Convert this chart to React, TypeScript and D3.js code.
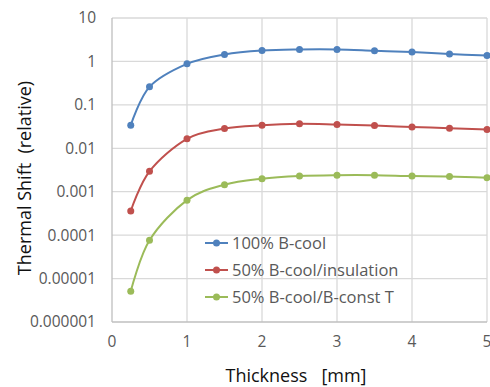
import React, { useRef, useEffect } from 'react';
import * as d3 from 'd3';

const thickness = [0.25, 0.5, 1, 1.5, 2, 2.5, 3, 3.5, 4, 4.5, 5];
const bCool100 = [0.034, 0.26, 0.88, 1.45, 1.79, 1.89, 1.89, 1.76, 1.64, 1.48, 1.37];
const bCoolInsulation = [0.00036, 0.00295, 0.0165, 0.0284, 0.0339, 0.0365, 0.0351, 0.0333, 0.031, 0.029, 0.027];
const bCoolConstT = [0.0000051, 0.000076, 0.00064, 0.00145, 0.002, 0.0023, 0.0024, 0.0024, 0.0023, 0.00225, 0.0021];
const seriesNames = ['100% B-cool', '50% B-cool/insulation', '50% B-cool/B-const T'];
const seriesColors = ['#4F81BD', '#C0504D', '#9BBB59'];
const xTicks = [0, 1, 2, 3, 4, 5];
const yTicks = [10, 1, 0.1, 0.01, 0.001, 0.0001, 0.00001, 0.000001];
const yTickLabels = ['10', '1', '0.1', '0.01', '0.001', '0.0001', '0.00001', '0.000001'];

export default function App() {
  const svgRef = useRef<SVGSVGElement>(null);
  const width = 490;
  const height = 387;

  useEffect(() => {
    const svg = d3.select(svgRef.current);
    svg.selectAll('*').remove();

    const margin = { top: 18, right: 3, bottom: 65, left: 112 };
    const innerWidth = width - margin.left - margin.right;
    const innerHeight = height - margin.top - margin.bottom;
    const font = '"Open Sans", sans-serif';

    const x = d3.scaleLinear().domain([0, 5]).range([0, innerWidth]);
    const y = d3.scaleLog().domain([0.000001, 10]).range([innerHeight, 0]);

    const g = svg.append('g').attr('transform', `translate(${margin.left},${margin.top})`);

    // gridlines
    g.selectAll('.hgrid')
      .data(yTicks.slice(0, -1))
      .enter()
      .append('line')
      .attr('x1', 0)
      .attr('x2', innerWidth)
      .attr('y1', d => y(d))
      .attr('y2', d => y(d))
      .attr('stroke', '#D9D9D9')
      .attr('stroke-width', 1.3);
    g.selectAll('.vgrid')
      .data(xTicks.slice(1))
      .enter()
      .append('line')
      .attr('x1', d => x(d))
      .attr('x2', d => x(d))
      .attr('y1', 0)
      .attr('y2', innerHeight)
      .attr('stroke', '#D9D9D9')
      .attr('stroke-width', 1.3);

    // axes lines
    g.append('line').attr('x1', 0).attr('x2', 0).attr('y1', 0).attr('y2', innerHeight)
      .attr('stroke', '#BFBFBF').attr('stroke-width', 1.3);
    g.append('line').attr('x1', 0).attr('x2', innerWidth).attr('y1', innerHeight).attr('y2', innerHeight)
      .attr('stroke', '#BFBFBF').attr('stroke-width', 1.3);

    // tick labels
    g.selectAll('.ylab')
      .data(yTicks)
      .enter()
      .append('text')
      .attr('x', -16)
      .attr('y', d => y(d))
      .attr('dy', '0.35em')
      .attr('text-anchor', 'end')
      .attr('font-family', font)
      .attr('font-size', 15.5)
      .attr('fill', '#595959')
      .text((d, i) => yTickLabels[i]);
    g.selectAll('.xlab')
      .data(xTicks)
      .enter()
      .append('text')
      .attr('x', d => x(d))
      .attr('y', innerHeight + 25)
      .attr('text-anchor', 'middle')
      .attr('font-family', font)
      .attr('font-size', 15.5)
      .attr('fill', '#595959')
      .text(d => String(d));

    // series
    const allSeries = [bCool100, bCoolInsulation, bCoolConstT];
    const line = d3.line<number>()
      .x((d, i) => x(thickness[i]))
      .y(d => y(d))
      .curve(d3.curveCatmullRom.alpha(0));

    allSeries.forEach((vals, si) => {
      g.append('path')
        .attr('d', line(vals))
        .attr('fill', 'none')
        .attr('stroke', seriesColors[si])
        .attr('stroke-width', 2);
      g.selectAll(`.pt${si}`)
        .data(vals)
        .enter()
        .append('circle')
        .attr('cx', (d, i) => x(thickness[i]))
        .attr('cy', d => y(d))
        .attr('r', 3.5)
        .attr('fill', seriesColors[si]);
    });

    // legend
    const legend = svg.append('g').attr('transform', 'translate(205,243)');
    seriesNames.forEach((name, i) => {
      const row = legend.append('g').attr('transform', `translate(0,${i * 27})`);
      row.append('line').attr('x1', 0).attr('x2', 23).attr('y1', 0).attr('y2', 0)
        .attr('stroke', seriesColors[i]).attr('stroke-width', 2);
      row.append('circle').attr('cx', 11.5).attr('cy', 0).attr('r', 3.5).attr('fill', seriesColors[i]);
      row.append('text')
        .attr('x', 27)
        .attr('y', 0)
        .attr('dy', '0.35em')
        .attr('font-family', font)
        .attr('font-size', 16.5)
        .attr('fill', '#595959')
        .text(name);
    });

    // axis titles
    svg.append('text')
      .attr('x', 296)
      .attr('y', 382)
      .attr('text-anchor', 'middle')
      .attr('font-family', font)
      .attr('font-size', 18)
      .attr('fill', '#111')
      .style('white-space', 'pre')
      .text('Thickness   [mm]');
    svg.append('text')
      .attr('transform', `translate(31,${margin.top + innerHeight / 2 + 8}) rotate(-90)`)
      .attr('text-anchor', 'middle')
      .attr('font-family', font)
      .attr('font-size', 18)
      .attr('fill', '#111')
      .style('white-space', 'pre')
      .text('Thermal Shift  (relative)');
  }, []);

  return (
    <svg
      ref={svgRef}
      width={width}
      height={height}
      style={{ position: 'absolute', left: 0, top: 0, background: '#fff' }}
    />
  );
}
